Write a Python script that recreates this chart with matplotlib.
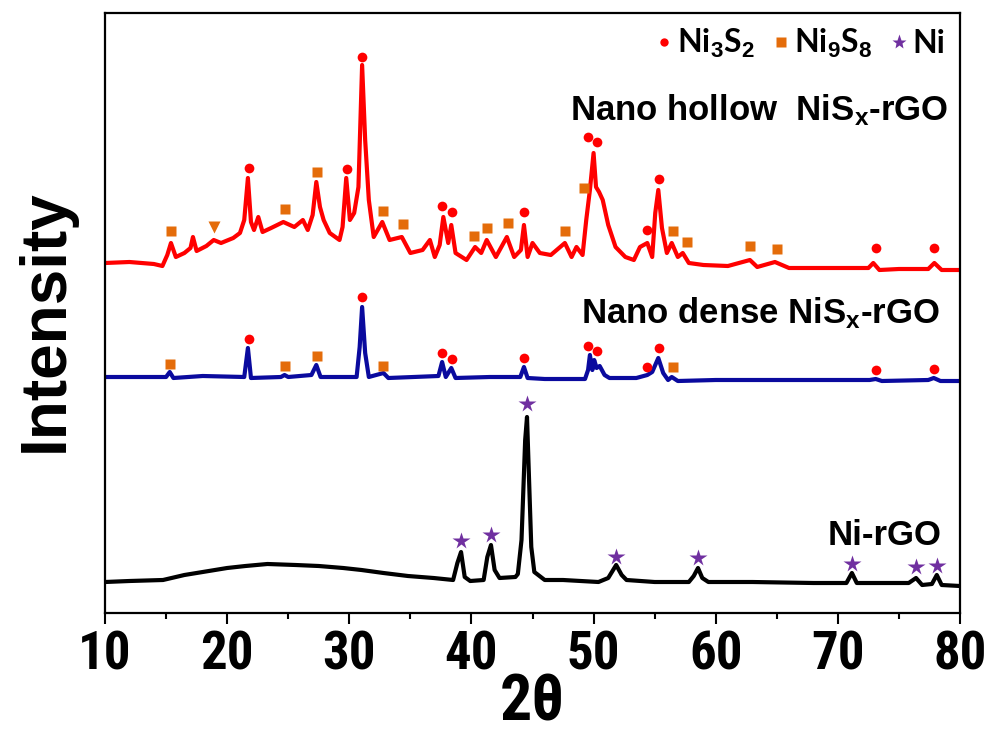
import numpy as np
import matplotlib
matplotlib.use("Agg")
import matplotlib.pyplot as plt
from matplotlib.lines import Line2D
from matplotlib import font_manager as fm

# ---------------- data ----------------
hollow_x = [10, 12, 14, 14.7, 15.1, 15.4, 15.8, 16.5, 17.0, 17.2, 17.5, 18.3, 18.9, 19.5, 20.5, 21.05, 21.4,
            21.7, 21.95, 22.2, 22.55, 22.9, 23.6, 24.6, 25.5, 26.2, 26.6, 27.0, 27.3, 27.6, 27.9, 28.4, 29.2,
            29.45, 29.75, 30.05, 30.4, 30.75, 31.05, 31.3, 31.6, 32.0, 32.7, 33.3, 34.3, 35.0, 36.0, 36.6,
            37.0, 37.4, 37.7, 38.1, 38.35, 38.7, 39.6, 40.3, 40.8, 41.25, 42.0, 42.9, 43.5, 44.05, 44.3, 44.6,
            45.0, 45.6, 46.5, 47.65, 48.2, 48.6, 49.1, 49.4, 49.7, 50.0, 50.2, 50.45, 50.75, 51.2, 51.8, 52.6,
            53.3, 53.8, 54.4, 54.8, 55.05, 55.3, 55.6, 56.0, 56.4, 56.9, 57.3, 57.8, 59, 61, 62.8, 63.4, 64.85,
            66, 68, 70, 72.5, 72.9, 73.4, 75, 77.4, 77.9, 78.5, 80]
hollow_y = [350, 351, 349, 347, 358, 370, 356, 360, 365, 376, 362, 367, 373, 370, 375, 380, 393, 435, 391, 383,
            396, 381, 385, 391, 386, 393, 383, 398, 431, 406, 393, 380, 373, 386, 435, 393, 400, 426, 548, 473,
            413, 376, 391, 373, 376, 360, 363, 373, 356, 368, 396, 370, 388, 360, 353, 366, 360, 373, 356, 376,
            356, 363, 388, 356, 370, 360, 358, 370, 356, 366, 358, 393, 423, 460, 426, 421, 413, 388, 366, 356,
            353, 366, 370, 356, 400, 423, 385, 360, 370, 356, 360, 350, 348, 347, 353, 346, 351, 345, 345, 345,
            345, 350, 343, 344, 344, 350, 343, 343]

dense_x = [10, 13, 15.0, 15.3, 15.6, 18, 21.4, 21.7, 21.95, 24.4, 24.7, 25.0, 26.9, 27.3, 27.65, 30.6, 30.85,
           31.05, 31.3, 31.6, 32.8, 33.2, 37.3, 37.6, 37.9, 38.35, 38.7, 41.5, 44.0, 44.3, 44.6, 46, 49.3,
           49.55, 49.7, 49.9, 50.05, 50.25, 50.5, 50.9, 51.3, 53.5, 54.4, 54.8, 55.3, 55.7, 56.1, 56.4, 56.9,
           60, 65, 72.6, 73.1, 73.6, 77.4, 77.85, 78.4, 80]
dense_y = [236, 236, 236, 241, 235, 237, 236, 265, 235, 236, 238, 236, 238, 248, 236, 236, 266, 306, 260, 236,
           240, 235, 237, 251, 236, 245, 235, 236, 236, 246, 235, 234, 234, 243, 258, 243, 253, 245, 247, 238,
           235, 235, 238, 241, 255, 240, 233, 236, 232, 233, 233, 233, 234, 232, 233, 235, 232, 232]

ni_x = [10, 12, 14.75, 16.5, 18, 20, 21.5, 23.3, 25.6, 27.5, 29.5, 31, 32.8, 34.8, 36.9, 38.5, 38.85, 39.15,
        39.45, 39.9, 41.0, 41.3, 41.6, 41.9, 42.3, 43.6, 43.8, 44.1, 44.2, 44.4, 44.55, 44.7, 44.9, 45.15, 46.0,
        47.5, 50.4, 51.2, 51.5, 51.85, 52.3, 52.7, 55, 57.8, 58.2, 58.55, 58.9, 59.4, 63, 68, 70.7, 71.15,
        71.55, 74, 75.8, 76.4, 76.9, 77.7, 78.1, 78.5, 80]
ni_y = [31, 32, 33, 38, 41, 45, 47, 49, 48, 47, 45, 43, 40, 37, 35, 33, 50, 61, 36, 32, 33, 56, 68, 43, 35, 36,
        39, 73, 106, 173, 196, 140, 66, 41, 33, 33, 31, 35, 41, 48, 38, 33, 31, 31, 37, 45, 35, 31, 31, 30, 30,
        40, 30, 30, 30, 35, 28, 29, 38, 28, 27]

# phase markers
hollow_ni3s2_x = [21.75, 29.8, 31.05, 37.6, 38.4, 44.3, 49.55, 50.3, 54.4, 55.35, 73.1, 77.85]
hollow_ni3s2_y = [445, 444, 556, 407, 401, 401, 476, 471, 383, 434, 365, 365]
hollow_ni9s8_x = [15.4, 24.7, 27.35, 32.8, 34.4, 40.25, 41.3, 43.0, 47.7, 49.2, 56.5, 57.65, 62.8, 65.0]
hollow_ni9s8_y = [382, 404, 441, 402, 389, 377, 385, 390, 382, 425, 382, 371, 367, 364]
hollow_tri_x = [18.9]
hollow_tri_y = [386]
dense_ni3s2_x = [21.75, 31.05, 37.6, 38.4, 44.3, 49.55, 50.3, 54.4, 55.35, 73.1, 77.85]
dense_ni3s2_y = [274, 316, 260, 254, 255, 267, 262, 246, 265, 243, 244]
dense_ni9s8_x = [15.3, 24.7, 27.35, 32.8, 56.5]
dense_ni9s8_y = [249, 247, 257, 247, 246]
ni_star_x = [39.15, 41.6, 44.55, 51.85, 58.55, 71.15, 76.4, 78.1]
ni_star_y = [72, 78, 209, 56, 55, 49, 46, 47]

xticks = [10, 20, 30, 40, 50, 60, 70, 80]
legend_labels = ["Ni$_3$S$_2$", "Ni$_9$S$_8$", "Ni"]
sample_labels = ["Nano hollow  NiS$_\\mathrm{x}$-rGO", "Nano dense NiS$_\\mathrm{x}$-rGO", "Ni-rGO"]

# ---------------- style ----------------
names = {f.name for f in fm.fontManager.ttflist}
narrow = None
for cand in ["Liberation Sans Narrow", "Roboto Condensed", "Open Sans Condensed"]:
    if cand in names:
        narrow = cand
        break
if narrow is None:
    narrow = "Liberation Sans"
sans = "Liberation Sans"
legfont = "Lato" if "Lato" in names else sans

plt.rcParams["mathtext.fontset"] = "custom"
plt.rcParams["mathtext.rm"] = "Liberation Sans:bold"
plt.rcParams["mathtext.it"] = "Liberation Sans:bold"
plt.rcParams["mathtext.bf"] = "Liberation Sans:bold"

RED = "#FF0000"
BLUE = "#0A0A9E"
ORANGE = "#E46C0A"
PURPLE = "#7030A0"

fig = plt.figure(figsize=(9.94, 7.38), dpi=100)
ax = fig.add_axes([105 / 994, 1 - 613 / 738, 855 / 994, 600 / 738])

lw = 3.0
ax.plot(hollow_x, hollow_y, color=RED, lw=lw, solid_joinstyle="round")
ax.plot(dense_x, dense_y, color=BLUE, lw=lw, solid_joinstyle="round")
ax.plot(ni_x, ni_y, color="black", lw=lw, solid_joinstyle="round")

ax.plot(hollow_ni3s2_x, hollow_ni3s2_y, "o", color=RED, ms=7, mec="none", ls="none")
ax.plot(hollow_ni9s8_x, hollow_ni9s8_y, "s", color=ORANGE, ms=7, mec="none", ls="none")
ax.plot(hollow_tri_x, hollow_tri_y, "v", color=ORANGE, ms=8, mec="none", ls="none")
ax.plot(dense_ni3s2_x, dense_ni3s2_y, "o", color=RED, ms=7, mec="none", ls="none")
ax.plot(dense_ni9s8_x, dense_ni9s8_y, "s", color=ORANGE, ms=7, mec="none", ls="none")
ax.plot(ni_star_x, ni_star_y, "*", color=PURPLE, ms=13, mec="none", ls="none")

ax.set_xlim(10, 80)
ax.set_ylim(0, 600)
ax.set_xticks(xticks)
ax.set_xticks(np.arange(15, 80, 10), minor=True)
ax.set_yticks([])
ax.tick_params(axis="x", which="major", direction="out", length=8, width=1.5, pad=4,
               labelsize=38)
ax.tick_params(axis="x", which="minor", direction="out", length=4.5, width=1.5)
for lab in ax.get_xticklabels():
    lab.set_fontfamily(narrow)
    lab.set_fontweight("bold")
for sp in ax.spines.values():
    sp.set_linewidth(1.6)

ax.set_xlabel("2θ", fontsize=46, fontweight="bold", family=narrow, labelpad=-6)
ax.set_ylabel("Intensity", fontsize=46, fontweight="bold", family=sans)
ax.yaxis.set_label_coords((76 - 105) / 855, (613 - 321) / 600)

# sample labels
ax.text(79.0, 493, sample_labels[0], ha="right", va="baseline", fontsize=25, fontweight="bold", family=sans)
ax.text(78.36, 290, sample_labels[1], ha="right", va="baseline", fontsize=25, fontweight="bold", family=sans)
ax.text(78.53, 68, sample_labels[2], ha="right", va="baseline", fontsize=25, fontweight="bold", family=sans)

# legend
handles = [
    Line2D([], [], marker="o", color=RED, ls="none", ms=6, mec="none"),
    Line2D([], [], marker="s", color=ORANGE, ls="none", ms=6.5, mec="none"),
    Line2D([], [], marker="*", color=PURPLE, ls="none", ms=11, mec="none"),
]
leg = ax.legend(handles, legend_labels, loc="upper right", ncol=3, frameon=False,
                bbox_to_anchor=((945 - 105) / 855, (613 - 27) / 600), borderpad=0, borderaxespad=0,
                handlelength=0.6, handletextpad=0.1, columnspacing=0.55,
                prop={"family": legfont, "weight": "bold", "size": 23})

fig.savefig("out.png", dpi=100)
